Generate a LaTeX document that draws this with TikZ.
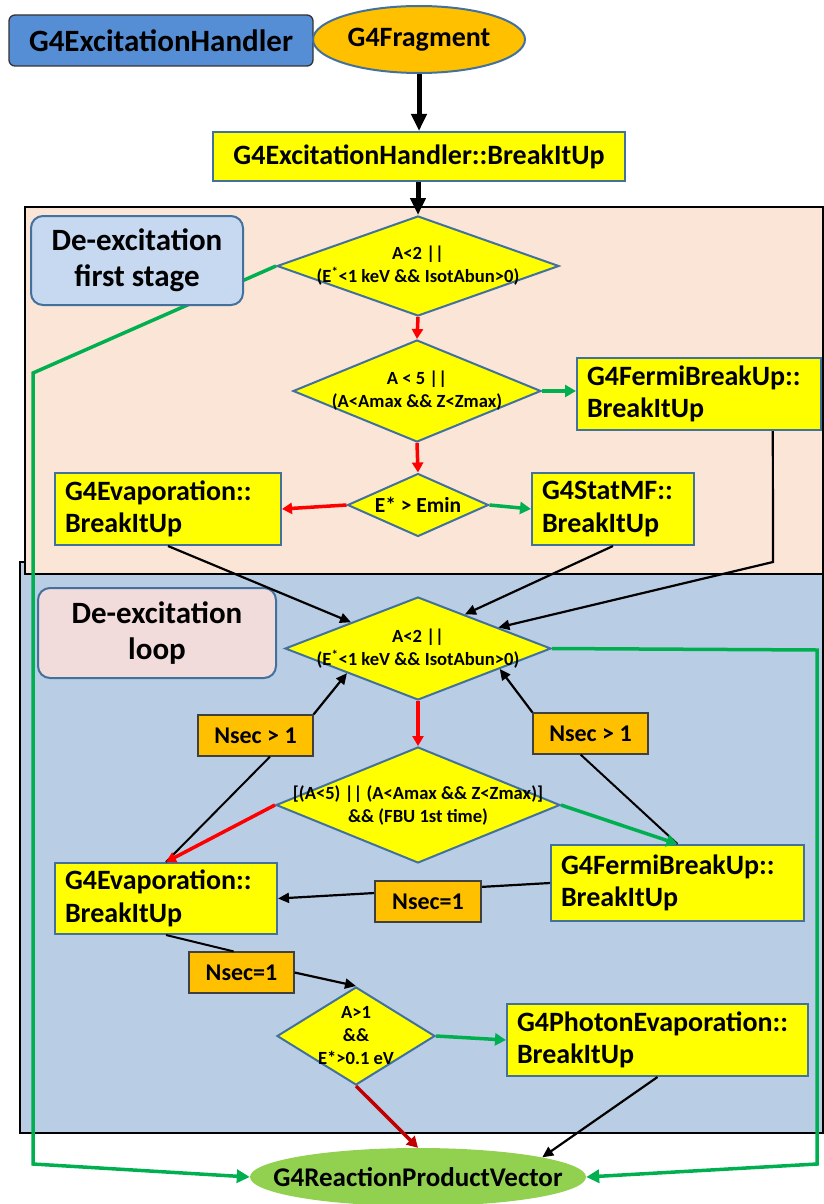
\documentclass[tikz,border=0pt]{standalone}
\usepackage{fontspec}
\setmainfont{Carlito}
\usetikzlibrary{shapes.geometric,arrows.meta,calc}
\definecolor{bdr}{HTML}{41719C}
\definecolor{yel}{HTML}{FFFF00}
\definecolor{orng}{HTML}{FFC000}
\definecolor{grn}{HTML}{00B050}
\definecolor{rd}{HTML}{FF0000}
\definecolor{drd}{HTML}{C00000}
\definecolor{peach}{HTML}{FBE5D6}
\definecolor{bluebg}{HTML}{B9CDE5}
\definecolor{fsfill}{HTML}{C6D9F1}
\definecolor{loopfill}{HTML}{F2DCDB}
\definecolor{hblue}{HTML}{558ED5}
\definecolor{rgreen}{HTML}{92D050}
\newcommand\bigf{\bfseries\fontsize{28}{32.5}\selectfont}
\newcommand\rpf{\bfseries\fontsize{27}{32}\selectfont}
\newcommand\hf{\bfseries\fontsize{31}{36}\selectfont}
\newcommand\stf{\bfseries\fontsize{31}{36}\selectfont}
\newcommand\nsf{\bfseries\fontsize{24}{29}\selectfont}
\newcommand\dtf{\bfseries\fontsize{18.6}{23}\selectfont}
\newcommand\emf{\bfseries\fontsize{21.5}{25}\selectfont}
\tikzset{
  region/.style={draw=black, line width=2.5pt, inner sep=0pt},
  ybox/.style={draw=bdr, fill=yel, line width=2pt, align=left, inner xsep=10pt, inner ysep=0pt, font=\bigf},
  nbox/.style={draw=black!75, fill=orng, line width=1.2pt, minimum height=41pt, inner sep=0pt, font=\nsf},
  stbox/.style={draw=bdr, line width=2pt, rounded corners=12pt, align=center, inner sep=0pt, font=\stf},
  dia/.style={diamond, draw=bdr, fill=yel, line width=2pt, inner sep=0pt},
  dtxt/.style={align=center, inner sep=0pt, font=\dtf},
  thk/.style={black, line width=5pt, -{Triangle[length=17pt,width=15pt]}},
  redar/.style={rd, line width=3.5pt, -{Triangle[length=10pt,width=11pt]}},
  grar/.style={grn, line width=3.5pt, -{Triangle[length=11pt,width=12pt]}},
  blar/.style={black, line width=2.2pt, -{Triangle[length=11pt,width=10pt]}},
  blln/.style={black, line width=2pt},
}
\begin{document}
\begin{tikzpicture}[x=1pt,y=-1pt]
\useasboundingbox (0,0) rectangle (824,1204);
% background regions
\node[region, fill=bluebg, minimum width=803pt, minimum height=571pt] (reg2) at (421.5,847.5) {};
\node[region, fill=peach, minimum width=798pt, minimum height=367pt] (reg1) at (424,390.5) {};
% top
\node[draw=black!80, fill=hblue, line width=1.3pt, rounded corners=6pt, minimum width=304pt, minimum height=51pt, inner sep=0pt, font=\hf] (hand) at (161,40.5) {G4ExcitationHandler};
\node[ellipse, draw=bdr, fill=orng, line width=2pt, minimum width=212pt, minimum height=67pt, inner sep=0pt, font=\bigf] (frag) at (419,39.5) {G4Fragment};
\node[draw=bdr, fill=yel, line width=2pt, minimum width=412pt, minimum height=49pt, inner sep=0pt, font=\bfseries\fontsize{28}{33}\selectfont] (bku) at (419,156.5) {G4ExcitationHandler::BreakItUp};
% output ellipse
\node[ellipse, fill=rgreen, minimum width=336pt, minimum height=58pt, inner sep=0pt] (rpv) at (418,1177) {};
\node[font=\rpf, inner sep=0pt] (rpvt) at (rpv) {G4ReactionProductVector};
% first stage
\node[dia, minimum width=282pt, minimum height=100pt] (d1) at (418,266) {};
\node[dtxt] (d1t) at (d1) {A<2 ||\\(E\textsuperscript{*}<1 keV \&\& IsotAbun>0)};
\node[dia, minimum width=248pt, minimum height=102pt] (d2) at (417,391) {};
\node[dtxt] (d2t) at (d2) {A < 5 ||\\(A<Amax \&\& Z<Zmax)};
\node[ybox, text width=224pt, minimum height=72pt] (fb1) at (699,394) {G4FermiBreakUp::\\BreakItUp};
\node[dia, minimum width=141pt, minimum height=63pt] (d3) at (418,505) {};
\node[dtxt, font=\emf] (d3t) at (d3) {E* > Emin};
\node[ybox, text width=206pt, minimum height=72pt] (ev1) at (168,509) {G4Evaporation::\\BreakItUp};
\node[ybox, text width=142pt, minimum height=72pt] (smf) at (613,509) {G4StatMF::\\BreakItUp};
% loop
\node[stbox, fill=loopfill, minimum width=238pt, minimum height=90pt] (lp) at (157,633) {De-excitation\\loop};
\node[dia, minimum width=266pt, minimum height=103pt] (d4) at (418,648.5) {};
\node[dtxt] (d4t) at (d4) {A<2 ||\\(E\textsuperscript{*}<1 keV \&\& IsotAbun>0)};
\node[nbox, minimum width=115pt] (ns1) at (255.5,735.5) {Nsec > 1};
\node[nbox, minimum width=115pt] (ns2) at (590.5,733.5) {Nsec > 1};
\node[dia, minimum width=284pt, minimum height=116pt] (d5) at (418,805) {};
\node[dtxt] (d5t) at (d5) {[(A<5) || (A<Amax \&\& Z<Zmax)]\\\&\& (FBU 1st time)};
\node[ybox, text width=202pt, minimum height=71pt] (ev2) at (166,898.5) {G4Evaporation::\\BreakItUp};
\node[ybox, text width=233pt, minimum height=76pt] (fb2) at (677.5,883) {G4FermiBreakUp::\\BreakItUp};
\node[nbox, minimum width=105pt] (ns4) at (241.5,972.5) {Nsec=1};
\node[dia, minimum width=158pt, minimum height=98pt] (d6) at (356,1036) {};
\node[dtxt] (d6t) at (d6) {A>1\\\&\&\\E*>0.1 eV};
\node[ybox, text width=281pt, minimum height=72pt] (pe) at (657.5,1040) {G4PhotonEvaporation::\\BreakItUp};
% bend points
\coordinate (gl1) at (33,373);
\coordinate (gl2) at (33,1164);
\coordinate (gr1) at (817,650);
\coordinate (gr2) at (817,1164);
\coordinate (fbk) at (773,562);
% connectors
\draw[thk] (frag.south) -- (bku.north);
\draw[thk] (d1.north |- bku.south) -- (d1.north);
\draw[grn, line width=3.5pt, -{Triangle[length=13pt,width=13pt]}] (d1.west) -- (gl1) -- (gl2) -- (rpv.west);
\draw[redar] (d1.south) -- (d2.north);
\draw[grar] (d2.east) -- (fb1.west |- d2.east);
\draw[redar] (d2.south) -- (d3.north);
\draw[redar] (d3.west) -- (ev1.east);
\draw[grar] (d3.east) -- (smf.west);
\draw[blar] (ev1.south) -- ($(d4.west)!0.5!(d4.north)$);
\draw[blar] (smf.south) -- ($(d4.north)!0.35!(d4.east)$);
\draw[blar] ($(fb1.south east)!0.2!(fb1.south west)$) -- (fbk) -- ($(d4.north)!0.6!(d4.east)$);
\draw[grn, line width=3.5pt, -{Triangle[length=13pt,width=13pt]}] (d4.east) -- (gr1) -- (gr2) -- (rpv.east);
\draw[redar] (d4.south) -- (d5.north);
\draw[blar] (ns1.north east) -- ($(d4.west)!0.47!(d4.south)$);
\draw[blar] (ns2.north west) -- ($(d4.east)!0.39!(d4.south)$);
\draw[blln] (ev2.north) -- ($(ns1.south)!0.25!(ns1.south east)$);
\draw[blln] (fb2.north) -- ($(ns2.south)!0.17!(ns2.south west)$);
\draw[redar] (d5.west) -- (ev2.north);
\draw[grar] (d5.east) -- (fb2.north);
\draw[blar] (fb2.west) -- (ev2.east);
\draw[blln] (ev2.south) -- ($(ns4.north)!0.15!(ns4.north west)$);
\draw[blar] (ns4.east) -- (d6.north);
\draw[grar] (d6.east) -- (pe.west);
\draw[drd, line width=3.5pt, -{Triangle[length=11pt,width=12pt]}] (d6.south) -- (rpv.north);
\draw[blar] (pe.south) -- (rpv.9.4);
% nodes on top of connectors
\node[stbox, fill=fsfill, minimum width=212pt, minimum height=89pt] (fs) at (137,260.5) {De-excitation\\first stage};
\node[nbox, minimum width=106pt] (ns3) at (428,901.5) {Nsec=1};
\end{tikzpicture}
\end{document}
